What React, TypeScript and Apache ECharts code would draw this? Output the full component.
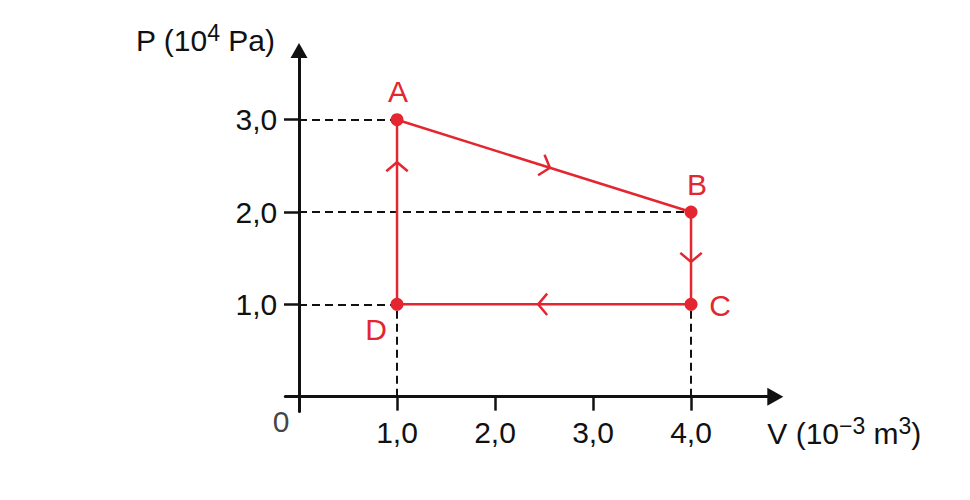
import React, { useEffect, useRef } from "react";
import * as echarts from "echarts";

// ---- data ----
const POINT_NAMES = ["A", "B", "C", "D"];
const VOLUME = [1, 4, 4, 1]; // 10^-3 m^3
const PRESSURE = [3, 2, 1, 1]; // 10^4 Pa
const X_TICKS = [1, 2, 3, 4];
const Y_TICKS = [1, 2, 3];
const CYCLE_ORDER = [0, 1, 2, 3, 0]; // A -> B -> C -> D -> A
const H_GUIDES = [0, 1, 3]; // dashed lines to the P axis (A, B, D)
const V_GUIDES = [2, 3]; // dashed lines to the V axis (C, D)

// ---- style ----
const RED = "#e3262f";
const INK = "#111111";
const FONT = "'Liberation Sans', Arial, Helvetica, sans-serif";
const FS = 30;
const LABEL_OFFSETS: number[][] = [
  [1, -28],
  [6, -28],
  [29, 1],
  [-21, 25],
];
const ARROW_AT = [0.52, 0.54, 0.52, 0.77];

const fmt = (v: number) => v.toFixed(1).replace(".", ",");

export default function App() {
  const ref = useRef<HTMLDivElement>(null);

  useEffect(() => {
    if (!ref.current) return;
    const chart = echarts.init(ref.current, undefined, { renderer: "svg" });

    const cycle = CYCLE_ORDER.map((i) => [VOLUME[i], PRESSURE[i]]);
    const guides = [
      ...H_GUIDES.map((i) => ({ coords: [[0, PRESSURE[i]], [VOLUME[i], PRESSURE[i]]] })),
      ...V_GUIDES.map((i) => ({ coords: [[VOLUME[i], 0], [VOLUME[i], PRESSURE[i]]] })),
    ];
    const segments = CYCLE_ORDER.slice(0, -1).map((i, k) => {
      const j = CYCLE_ORDER[k + 1];
      return [VOLUME[i], PRESSURE[i], VOLUME[j], PRESSURE[j], k];
    });

    const axisText = { color: INK, fontFamily: FONT, fontSize: FS };
    const nameRich = {
      n: { fontSize: FS, lineHeight: 38, color: INK, fontFamily: FONT, verticalAlign: "middle" },
      s: { fontSize: 23, lineHeight: 23, color: INK, fontFamily: FONT, verticalAlign: "top" },
    };

    chart.setOption({
      animation: false,
      backgroundColor: "#ffffff",
      grid: { left: 285.3, top: 50.5, width: 490, height: 360.9, containLabel: false },
      xAxis: {
        type: "value",
        min: -0.14,
        max: 4.86,
        axisLine: {
          show: true,
          onZero: true,
          symbol: ["none", "triangle"],
          symbolSize: [18, 16],
          lineStyle: { color: INK, width: 3 },
        },
        axisTick: {
          show: true,
          length: 14,
          customValues: X_TICKS,
          lineStyle: { color: INK, width: 2.5 },
        },
        axisLabel: {
          show: true,
          customValues: X_TICKS,
          margin: 6,
          formatter: (v: number) => fmt(v),
          ...axisText,
        },
        splitLine: { show: false },
        name: "{n|V (10}{s|−3}{n| m}{s|3}{n|)}",
        nameLocation: "end",
        nameGap: -8,
        nameTextStyle: {
          align: "left",
          verticalAlign: "middle",
          padding: [74, 0, 0, 0],
          rich: nameRich,
        },
      },
      yAxis: {
        type: "value",
        min: -0.16,
        max: 3.75,
        axisLine: {
          show: true,
          onZero: true,
          symbol: ["none", "triangle"],
          symbolSize: [17, 15],
          lineStyle: { color: INK, width: 3 },
        },
        axisTick: {
          show: true,
          length: 15,
          customValues: Y_TICKS,
          lineStyle: { color: INK, width: 2.5 },
        },
        axisLabel: {
          show: true,
          customValues: Y_TICKS,
          margin: 8,
          formatter: (v: number) => fmt(v),
          ...axisText,
        },
        splitLine: { show: false },
        name: "{n|P (10}{s|4}{n| Pa)}",
        nameLocation: "end",
        nameGap: 10.5,
        nameTextStyle: {
          align: "right",
          verticalAlign: "middle",
          padding: [0, 24, 0, 0],
          rich: nameRich,
        },
      },
      series: [
        {
          type: "lines",
          coordinateSystem: "cartesian2d",
          z: 1,
          silent: true,
          lineStyle: { color: INK, width: 2, type: [8, 5], opacity: 1 },
          data: guides,
        },
        {
          type: "line",
          z: 3,
          silent: true,
          symbol: "none",
          lineStyle: { color: RED, width: 2.5 },
          data: cycle,
        },
        {
          type: "custom",
          z: 3,
          silent: true,
          encode: { x: [0, 2], y: [1, 3] },
          data: segments,
          renderItem: (_params: any, api: any) => {
            const p1 = api.coord([api.value(0), api.value(1)]);
            const p2 = api.coord([api.value(2), api.value(3)]);
            const t = ARROW_AT[api.value(4)];
            const px = p1[0] + (p2[0] - p1[0]) * t;
            const py = p1[1] + (p2[1] - p1[1]) * t;
            const len = Math.hypot(p2[0] - p1[0], p2[1] - p1[1]);
            const bx = -(p2[0] - p1[0]) / len;
            const by = -(p2[1] - p1[1]) / len;
            const L = 14;
            const a = (50 * Math.PI) / 180;
            const arm = (s: number) => [
              px + L * (bx * Math.cos(s * a) - by * Math.sin(s * a)),
              py + L * (bx * Math.sin(s * a) + by * Math.cos(s * a)),
            ];
            return {
              type: "polyline",
              shape: { points: [arm(1), [px, py], arm(-1)] },
              style: { stroke: RED, lineWidth: 2.5, fill: "none" },
            };
          },
        },
        {
          type: "scatter",
          z: 4,
          silent: true,
          symbol: "circle",
          symbolSize: 13,
          itemStyle: { color: RED, opacity: 1 },
          label: {
            show: true,
            position: "inside",
            formatter: "{b}",
            color: RED,
            fontFamily: FONT,
            fontSize: FS,
          },
          data: POINT_NAMES.map((name, i) => ({
            name,
            value: [VOLUME[i], PRESSURE[i]],
            label: { offset: LABEL_OFFSETS[i] },
          })),
        },
        {
          type: "scatter",
          z: 4,
          silent: true,
          symbolSize: 0,
          label: {
            show: true,
            position: "inside",
            formatter: "0",
            offset: [-18, 25],
            color: INK,
            fontFamily: FONT,
            fontSize: FS,
          },
          data: [[0, 0]],
        },
      ],
    });

    return () => chart.dispose();
  }, []);

  return (
    <div
      ref={ref}
      style={{ position: "fixed", left: 0, top: 0, width: 970, height: 500, background: "#fff" }}
    />
  );
}
